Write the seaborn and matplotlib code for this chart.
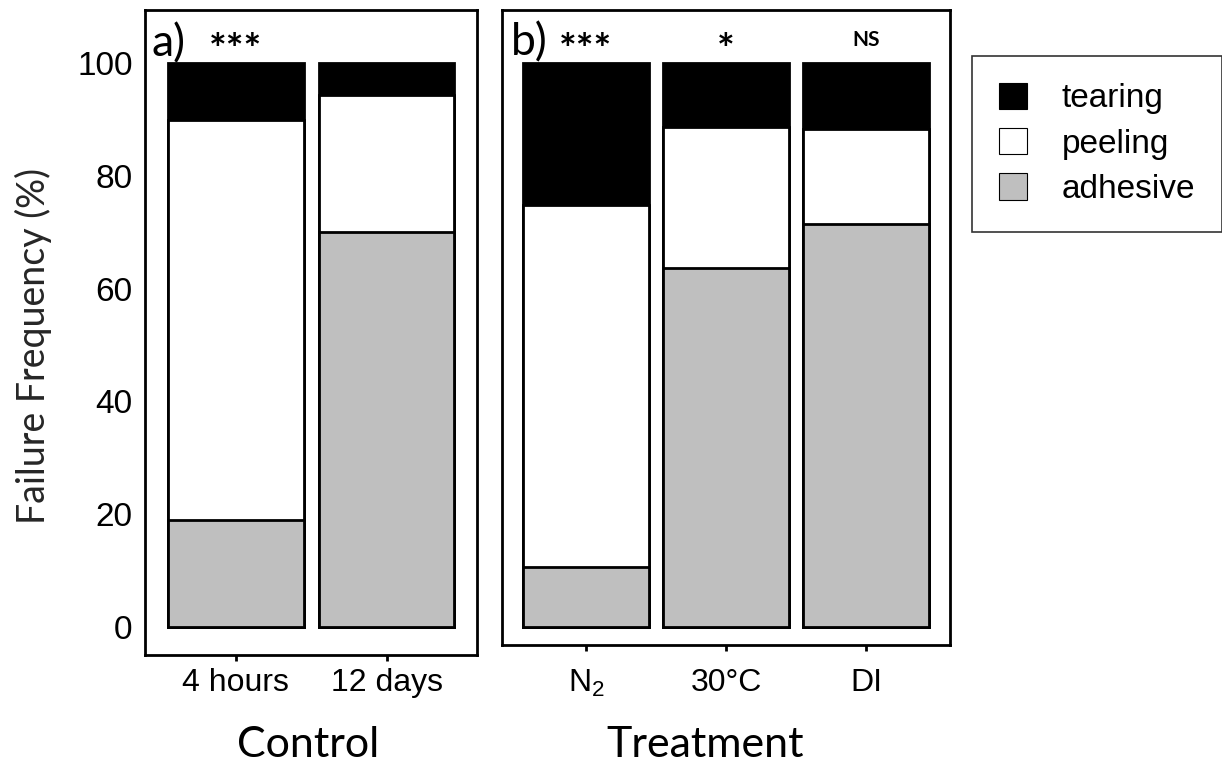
import numpy as np
import pandas as pd
import seaborn as sns
from matplotlib import pyplot as plt
from matplotlib.patches import Patch

# data (percent of failures per mode)
control_groups = ["4 hours", "12 days"]
control_adhesive = [19.0, 70.0]
control_peeling = [71.0, 24.3]
control_tearing = [10.0, 5.7]
control_signif = ["***"]

treat_groups = ["N$_2$", "30°C", "DI"]
treat_adhesive = [10.6, 63.7, 71.5]
treat_peeling = [64.2, 25.0, 16.8]
treat_tearing = [25.2, 11.3, 11.7]
treat_signif = ["***", "*", "NS"]

modes = ["tearing", "peeling", "adhesive"]
mode_colors = {"tearing": "black", "peeling": "white", "adhesive": "#bfbfbf"}


def make_frame(groups, adhesive, peeling, tearing):
    df = pd.DataFrame(
        {"group": groups, "adhesive": adhesive, "peeling": peeling, "tearing": tearing}
    )
    # cumulative tops for stacking
    df["adhesive_top"] = df["adhesive"]
    df["peeling_top"] = df["adhesive"] + df["peeling"]
    df["tearing_top"] = df["peeling_top"] + df["tearing"]
    return df


def stacked_bars(ax, df):
    for mode in modes:
        sns.barplot(
            data=df,
            x="group",
            y=f"{mode}_top",
            color=mode_colors[mode],
            edgecolor="black",
            linewidth=2,
            width=0.9,
            saturation=1,
            ax=ax,
        )


sns.set_style("white")
plt.rcParams["mathtext.default"] = "regular"
plt.rcParams["text.color"] = "black"

fig = plt.figure(figsize=(12.22, 7.63), dpi=100)
ax_a = fig.add_axes([0.1187, 0.1415, 0.2717, 0.845])
ax_b = fig.add_axes([0.4108, 0.155, 0.3666, 0.832])

df_a = make_frame(control_groups, control_adhesive, control_peeling, control_tearing)
df_b = make_frame(treat_groups, treat_adhesive, treat_peeling, treat_tearing)

stacked_bars(ax_a, df_a)
stacked_bars(ax_b, df_b)

tick_font = ["Liberation Sans", "DejaVu Sans"]
label_font = ["Lato", "DejaVu Sans"]

for ax, n, pad in [(ax_a, 2, 5), (ax_b, 3, 13)]:
    ax.set_xlim(-0.6, n - 0.4)
    for side in ax.spines.values():
        side.set_linewidth(2)
        side.set_color("black")
    ax.tick_params(axis="x", length=4, width=2, direction="out", bottom=True,
                   pad=pad, colors="black")
    ax.set_xlabel("")
    ax.set_ylabel("")
    for lab in ax.get_xticklabels():
        lab.set_fontfamily(tick_font)
        lab.set_fontsize(23)

ax_a.set_ylim(-5, 109.4)
ax_b.set_ylim(-3.14, 109.4)

ax_a.set_yticks([0, 20, 40, 60, 80, 100])
ax_a.tick_params(axis="y", length=0, pad=9, colors="black")
for lab in ax_a.get_yticklabels():
    lab.set_fontfamily(tick_font)
    lab.set_fontsize(24)
ax_b.set_yticks([])

ax_a.set_ylabel("Failure Frequency (%)", fontsize=27, family=label_font)
ax_a.yaxis.set_label_coords(-0.28, 0.48)
fig.text(308 / 1222, 1 - 745 / 763, "Control", ha="center", va="center",
         fontsize=31, family=label_font)
fig.text(705 / 1222, 1 - 745 / 763, "Treatment", ha="center", va="center",
         fontsize=31, family=label_font)

# panel tags and significance marks
ax_a.text(0.02, 0.98, "a)", transform=ax_a.transAxes, ha="left", va="top",
          fontsize=32, family=label_font)
ax_a.text(0, 102.0, control_signif[0], ha="center", va="center",
          fontsize=30, fontweight="bold", family=label_font)
ax_b.text(0.02, 0.98, "b)", transform=ax_b.transAxes, ha="left", va="top",
          fontsize=32, family=label_font)
for i, s in enumerate(treat_signif):
    if "*" in s:
        ax_b.text(i, 102.0, s, ha="center", va="center",
                  fontsize=30, fontweight="bold", family=label_font)
    else:
        ax_b.text(i, 104.0, s, ha="center", va="center",
                  fontsize=15, fontweight="bold", family=label_font)

handles = [Patch(facecolor=mode_colors[m], edgecolor="black", linewidth=0.8, label=m)
           for m in modes]
leg = fig.legend(
    handles=handles,
    loc="upper left",
    bbox_to_anchor=(972 / 1222, 1 - 56 / 763),
    frameon=True,
    fancybox=False,
    edgecolor="black",
    prop={"family": ["Liberation Sans", "DejaVu Sans"], "size": 24},
    handlelength=0.85,
    handleheight=0.85,
    handletextpad=1.05,
    labelspacing=0.4,
    borderpad=0.8,
    borderaxespad=0,
)
leg.get_frame().set_linewidth(1.2)

fig.savefig("out.png", dpi=100)
